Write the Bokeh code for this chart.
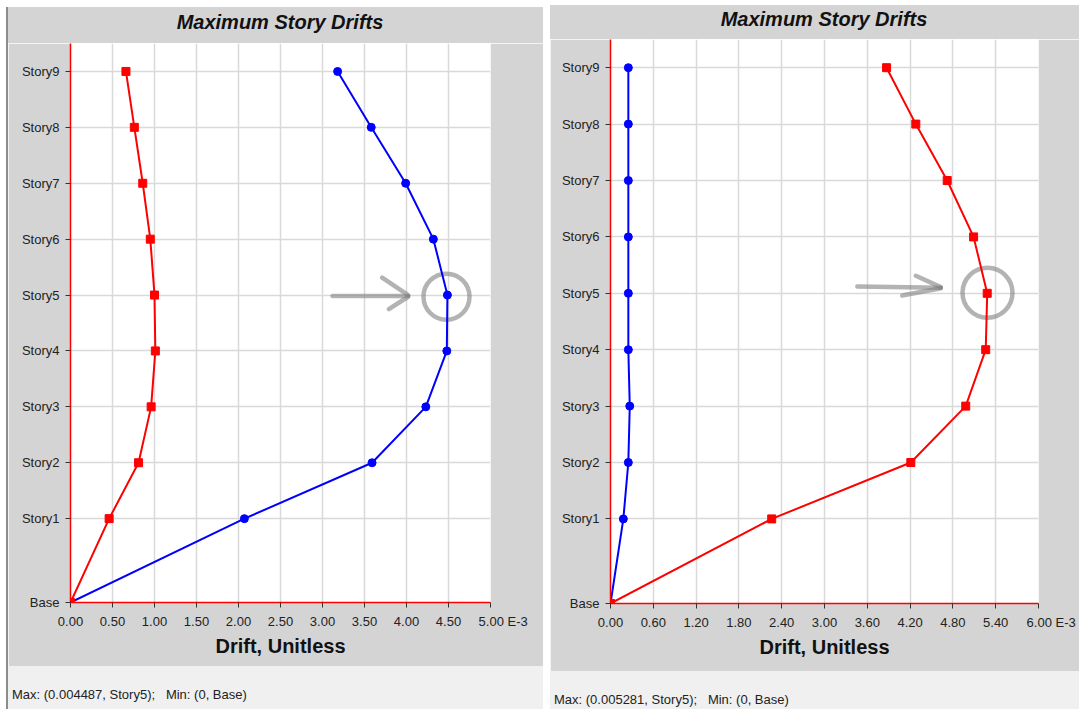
from bokeh.plotting import figure
from bokeh.layouts import row, column
from bokeh.models import FixedTicker, Div, Range1d, Spacer
from bokeh.embed import file_html
from bokeh.resources import INLINE

# ---------------- data ----------------
stories = ["Base", "Story1", "Story2", "Story3", "Story4", "Story5",
           "Story6", "Story7", "Story8", "Story9"]
story_levels = [0, 1.5, 2.5, 3.5, 4.5, 5.5, 6.5, 7.5, 8.5, 9.5]

# left chart (drift, E-3)
left_blue = [0.0, 2.07, 3.59, 4.23, 4.48, 4.487, 4.32, 3.99, 3.58, 3.18]
left_red = [0.0, 0.46, 0.81, 0.96, 1.01, 1.00, 0.95, 0.86, 0.76, 0.66]
left_ticks = [0.0, 0.5, 1.0, 1.5, 2.0, 2.5, 3.0, 3.5, 4.0, 4.5, 5.0]
left_note = "Max: (0.004487, Story5);&nbsp;&nbsp; Min: (0, Base)"

# right chart (drift, E-3)
right_blue = [0.0, 0.18, 0.25, 0.27, 0.25, 0.25, 0.25, 0.25, 0.25, 0.25]
right_red = [0.0, 2.26, 4.21, 4.98, 5.26, 5.281, 5.09, 4.72, 4.28, 3.87]
right_ticks = [0.0, 0.6, 1.2, 1.8, 2.4, 3.0, 3.6, 4.2, 4.8, 5.4, 6.0]
right_note = "Max: (0.005281, Story5);&nbsp;&nbsp; Min: (0, Base)"

chart_title = "Maximum Story Drifts"
unit_suffix = "E-3"

FONT = "Liberation Sans"
GREY_BG = "#d4d4d4"
STRIP_BG = "#f0f0f0"


def make_panel(blue, red, ticks, width, height, bl, br, bb, arrow, circle):
    p = figure(width=width, height=height, output_backend="svg",
               toolbar_location=None,
               x_range=Range1d(ticks[0], ticks[-1]),
               y_range=Range1d(0, 10),
               min_border_left=bl, min_border_right=br,
               min_border_top=0, min_border_bottom=bb, margin=0)
    p.border_fill_color = GREY_BG
    p.background_fill_color = "white"
    p.outline_line_color = None

    # axes
    p.xaxis.ticker = FixedTicker(ticks=ticks)
    labels = {t: f"{t:.2f}" for t in ticks}
    labels[ticks[-1]] = "\u00a0" * 7 + f"{ticks[-1]:.2f} {unit_suffix}"
    p.xaxis.major_label_overrides = labels
    p.yaxis.ticker = FixedTicker(ticks=story_levels)
    p.yaxis.major_label_overrides = {lv: s for lv, s in zip(story_levels, stories)}
    for ax in (p.xaxis, p.yaxis):
        ax.axis_line_color = "red"
        ax.axis_line_width = 1.5
        ax.major_tick_line_color = "#333333"
        ax.major_tick_out = 5
        ax.major_tick_in = 0
        ax.minor_tick_line_color = None
        ax.major_label_text_font = FONT
        ax.major_label_text_font_size = "13px"
        ax.major_label_text_color = "#222222"
    p.xaxis.major_label_standoff = 6
    p.yaxis.major_label_standoff = 6
    p.xaxis.axis_label = "Drift, Unitless"
    p.xaxis.axis_label_text_font = FONT
    p.xaxis.axis_label_text_font_size = "20px"
    p.xaxis.axis_label_text_font_style = "bold"
    p.xaxis.axis_label_text_color = "#111111"
    p.xaxis.axis_label_standoff = 3

    p.xgrid.grid_line_color = "#d9d9d9"
    p.xgrid.grid_line_width = 1.5
    p.ygrid.grid_line_color = "#d9d9d9"
    p.ygrid.grid_line_width = 1.5

    # hand-drawn annotation (arrow + circle)
    p.multi_line(xs=arrow[0], ys=arrow[1], line_color="#808080",
                 line_alpha=0.6, line_width=4.5, line_cap="round")
    p.scatter(x=[circle[0]], y=[circle[1]], size=circle[2], marker="circle",
              fill_color=None, line_color="#808080", line_alpha=0.6,
              line_width=4.5)

    # series
    p.line(blue, story_levels, line_color="blue", line_width=2)
    p.scatter(blue, story_levels, marker="circle", size=8, color="blue")
    p.line(red, story_levels, line_color="red", line_width=2)
    p.scatter(red, story_levels, marker="square", size=8, color="red")
    return p


def title_div(width, height, pad_top, pad_left):
    return Div(text=f'<div style="box-sizing:border-box;width:{width}px;'
                    f'padding:{pad_top}px 0 0 {pad_left}px;text-align:center;'
                    f'line-height:24px;white-space:nowrap;">{chart_title}</div>',
               width=width, height=height, margin=0,
               styles={"background-color": GREY_BG, "font-family": FONT,
                       "font-size": "20px", "font-weight": "bold",
                       "font-style": "italic", "color": "#111111"})


def note(text, width, height):
    return Div(text=f'<div style="padding:20px 0 0 4px;white-space:nowrap;">{text}</div>',
               width=width, height=height, margin=0,
               styles={"background-color": STRIP_BG, "font-family": FONT,
                       "font-size": "13px", "color": "#222222"})


left_arrow = ([[3.12, 4.02], [3.71, 4.02], [4.02, 3.79]],
              [[5.485, 5.485], [5.81, 5.50], [5.47, 5.25]])
right_arrow = ([[3.46, 4.63], [4.28, 4.63], [4.63, 4.09]],
               [[5.62, 5.60], [5.81, 5.61], [5.59, 5.46]])

p1 = make_panel(left_blue, left_red, left_ticks, 535, 623, 62, 53, 64,
                left_arrow, (4.476, 5.47, 46))
p2 = make_panel(right_blue, right_red, right_ticks, 529, 632, 60, 41, 68,
                right_arrow, (5.285, 5.51, 50))

edge = Div(text="", width=2, height=702, margin=0,
           styles={"background-color": "#8c8c8c"})

layout = row(Spacer(width=6, margin=0),
             column(Spacer(height=7, margin=0), edge, spacing=0),
             column(Spacer(height=7, margin=0), title_div(535, 36, 3, 9), p1,
                    note(left_note, 535, 43), spacing=0),
             Spacer(width=7, margin=0),
             column(Spacer(height=5, margin=0), title_div(529, 34, 1, 19), p2,
                    note(right_note, 529, 38), spacing=0),
             spacing=0)

open("out.html", "w").write(file_html(layout, INLINE))
